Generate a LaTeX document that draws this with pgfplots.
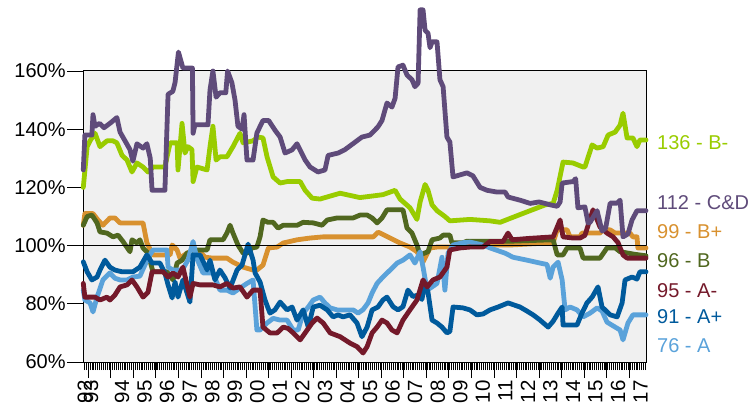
\documentclass[border=0pt]{standalone}
\usepackage{pgfplots}
\pgfplotsset{compat=1.18}
\usepackage{fontspec}
\setmainfont{Liberation Sans}
\definecolor{cCD}{HTML}{5F4B7A}
\definecolor{cBp}{HTML}{D8912F}
\definecolor{cB}{HTML}{50671F}
\definecolor{cAm}{HTML}{74192A}
\definecolor{cAp}{HTML}{005A9C}
\definecolor{cA}{HTML}{5AA2DA}
\definecolor{cBm}{HTML}{99CC00}
\begin{document}
\begin{tikzpicture}
\begin{axis}[name=main, scale only axis, width=562.7pt, height=291pt,
  xmin=1992.78, xmax=2017.74, ymin=60, ymax=160,
  clip=false,
  axis background/.style={fill=black!6},
  axis line style={black, line width=1pt},
  tick style={black, line width=0.9pt},
  tick align=outside,
  xtick={1993,...,2017}, xticklabels={},
  minor xtick={1992.8333,1992.9167,...,2017.75},
  major tick length=16pt, minor tick length=8pt,
  xtick pos=left, ytick pos=left,
  ytick={60,80,...,160},
  /pgf/number format/assume math mode=true,
  yticklabel={\pgfmathprintnumber{\tick}\%},
  yticklabel style={font=\fontsize{20}{24}\selectfont, inner sep=1.5pt},
  every axis plot/.append style={line width=4.8pt, line join=round, line cap=round},
]
% B+
\addplot[cBp] coordinates {(1992.78,107) (1992.85,111) (1993.21,111) (1993.43,108.8) (1993.65,107) (1993.96,109.5) (1994.18,109.5) (1994.41,107.8) (1995.43,107.8) (1995.60,101) (1995.87,96.8) (1996.63,96.8) (1996.72,100.2) (1996.94,98.5) (1997.07,95.7) (1997.38,97.4) (1997.51,97.8) (1997.96,97.8) (1998.18,96) (1998.53,95.7) (1999.15,95.7) (1999.42,94.3) (1999.87,92.6) (2000.31,91.6) (2000.48,91.6) (2000.75,93.3) (2000.99,99.2) (2001.38,99.5) (2001.65,100.9) (2002.27,102) (2002.84,102.6) (2003.42,103) (2005.06,103) (2005.64,103) (2005.86,104.6) (2006.03,104) (2006.39,102.6) (2006.83,100.9) (2007.27,99.5) (2007.58,97.9) (2007.85,94.4) (2008.16,99.2) (2008.47,99.5) (2009.04,99.5) (2009.35,100.2) (2011.71,100.2) (2013.62,101) (2013.80,105.4) (2014.24,105.4) (2014.37,103) (2014.81,103) (2014.90,104.3) (2015.70,104.3) (2015.84,105.4) (2016.15,105.4) (2016.37,104.3) (2017.03,104.3) (2017.16,103) (2017.34,103) (2017.38,99.2) (2017.74,99.2)};
% B
\addplot[cB] coordinates {(1992.78,107) (1992.95,110) (1993.16,110.5) (1993.39,107.8) (1993.52,104.7) (1993.83,104.3) (1994.10,103) (1994.32,103.6) (1994.54,101.4) (1994.85,97.9) (1994.94,102) (1995.16,100.9) (1995.29,102) (1995.43,99.2) (1995.65,97.4) (1995.87,91) (1996.49,91) (1996.76,88.2) (1996.94,94) (1997.16,95) (1997.38,97.4) (1997.82,98.5) (1998.27,98.5) (1998.40,102) (1998.98,102) (1999.15,104.3) (1999.29,107) (1999.42,104.3) (1999.64,100.2) (1999.87,97.4) (2000.04,97.4) (2000.26,99.2) (2000.48,99.5) (2000.62,103) (2000.75,108.8) (2000.97,108) (2001.20,108) (2001.42,106) (2001.65,107) (2002.27,107) (2002.53,108) (2002.98,107.8) (2003.37,107) (2003.60,108.8) (2004.04,109.5) (2004.75,109.5) (2005.06,110.5) (2005.37,110.5) (2005.59,109.5) (2005.81,107.8) (2006.03,109.5) (2006.25,112.3) (2006.96,112.3) (2007.14,106) (2007.36,104.3) (2007.58,100.2) (2007.72,96.8) (2008.07,97.9) (2008.25,102) (2008.60,102.6) (2008.74,103.6) (2009.04,103.6) (2009.13,101) (2009.62,101) (2009.80,101.5) (2011.71,101.5) (2013.62,102) (2013.80,96.8) (2014.06,96.8) (2014.24,99.2) (2014.81,99.2) (2014.95,95.7) (2015.70,95.7) (2016.01,99.2) (2016.37,99.2) (2016.59,97.9) (2017.25,97) (2017.74,96.5)};
% A
\addplot[cA] coordinates {(1992.78,84.7) (1992.85,81.3) (1993.08,80.3) (1993.21,77.2) (1993.39,82.3) (1993.65,88.2) (1993.96,90.6) (1994.18,88.8) (1994.41,88.2) (1994.72,88.2) (1994.98,89.2) (1995.29,89.5) (1995.65,95.7) (1995.87,98.5) (1996.49,98.5) (1996.54,92.6) (1996.76,91.6) (1997.07,91.6) (1997.20,92) (1997.42,95) (1997.65,101.4) (1997.82,95.5) (1998.09,90.6) (1998.53,90.6) (1998.84,84.7) (1999.15,84.7) (1999.42,83.7) (1999.73,85.4) (2000.04,87) (2000.31,88.2) (2000.48,71) (2000.62,71) (2000.93,73.4) (2001.20,75) (2001.51,74.4) (2001.82,74.4) (2002.09,71) (2002.31,71) (2002.53,76.8) (2002.76,78.9) (2002.98,81.3) (2003.28,82.3) (2003.50,80.3) (2003.73,78.6) (2004.04,77.9) (2004.75,77.9) (2004.97,76.8) (2005.19,78) (2005.41,80.3) (2005.59,83.7) (2005.81,87) (2006.07,89.2) (2006.39,91.6) (2006.70,94) (2006.96,95) (2007.27,96.8) (2007.49,94) (2007.72,97.9) (2007.85,92.6) (2008.03,84.7) (2008.25,85.8) (2008.47,87) (2008.69,96) (2008.82,84.7) (2008.96,97.4) (2009.18,100.2) (2009.62,101) (2009.93,101.2) (2010.51,100.2) (2010.82,99.2) (2011.49,97.4) (2011.84,96) (2012.46,95) (2013.04,94) (2013.35,93.5) (2013.49,88.8) (2013.62,92.6) (2013.84,94.3) (2014.02,88.2) (2014.15,77.9) (2014.37,78.9) (2014.68,77.9) (2014.95,75.5) (2015.26,76.8) (2015.57,78.6) (2015.79,77.5) (2016.01,73.7) (2016.37,72) (2016.59,71) (2016.72,67.6) (2016.94,73.4) (2017.16,76.2) (2017.74,76.2)};
% A+
\addplot[cAp] coordinates {(1992.78,94.4) (1992.95,91) (1993.16,88.2) (1993.39,89.2) (1993.52,91.6) (1993.74,95) (1993.96,92.6) (1994.18,91.6) (1994.50,91) (1994.98,91) (1995.29,92.6) (1995.60,96.8) (1995.83,94) (1996.18,94) (1996.40,90.6) (1996.54,86.5) (1996.72,82) (1996.85,87.5) (1996.98,82.3) (1997.20,88.2) (1997.51,80.6) (1997.65,96.8) (1997.96,96.8) (1998.27,91.6) (1998.40,95) (1998.62,88.2) (1998.84,91.6) (1999.06,89) (1999.29,85.4) (1999.60,91.6) (1999.82,93.3) (2000.09,100.5) (2000.31,95) (2000.40,90.6) (2000.62,87.5) (2000.84,81.3) (2001.06,76.8) (2001.28,77.9) (2001.51,80.6) (2001.82,77.9) (2002.04,78.9) (2002.26,74.4) (2002.53,77.9) (2002.76,72) (2002.98,78.9) (2003.28,79.5) (2003.60,77.9) (2003.86,75.5) (2004.08,76.2) (2004.30,75.5) (2004.61,76.2) (2004.92,73.4) (2005.14,68.7) (2005.37,72) (2005.59,77.9) (2005.85,78.9) (2006.07,81.3) (2006.25,82.3) (2006.52,79) (2006.74,77.9) (2006.96,79) (2007.18,84.7) (2007.40,82.5) (2007.63,83) (2007.80,81.5) (2007.94,87) (2008.07,84) (2008.25,74.4) (2008.47,73.4) (2008.69,72) (2008.91,70) (2009.04,70.5) (2009.18,78.9) (2009.62,78.6) (2009.93,77.9) (2010.24,76.2) (2010.51,76.5) (2010.82,77.9) (2011.18,78.9) (2011.62,80.3) (2012.15,78.9) (2012.46,77.5) (2012.73,76.2) (2013.04,74.4) (2013.40,72) (2013.62,74) (2013.84,76.8) (2014.02,78.9) (2014.06,72.7) (2014.68,72.7) (2014.90,76.8) (2015.12,80.3) (2015.35,82.3) (2015.61,85.8) (2015.79,78.9) (2016.15,76.2) (2016.46,75.5) (2016.68,80.3) (2016.81,88.2) (2017.12,89.2) (2017.34,88.5) (2017.47,91) (2017.74,91)};
% A-
\addplot[cAm] coordinates {(1992.78,87) (1992.85,82.3) (1993.30,82.3) (1993.52,81.3) (1993.83,82.3) (1993.96,81.3) (1994.18,83) (1994.41,85.8) (1994.72,86.5) (1994.94,88.2) (1995.16,85.8) (1995.43,82.3) (1995.65,84) (1995.83,91) (1996.32,91) (1996.54,89.2) (1996.76,90.6) (1996.98,89.2) (1997.20,92.6) (1997.51,82.3) (1997.65,87) (1997.96,86.5) (1998.53,86.5) (1998.84,85.8) (1999.15,87) (1999.42,85.4) (1999.73,85.8) (2000.04,82.3) (2000.31,84.7) (2000.62,84.7) (2000.75,72) (2001.06,70) (2001.38,70) (2001.65,72) (2001.87,71.5) (2002.09,70) (2002.40,67.6) (2002.62,70) (2002.93,73.4) (2003.15,75.1) (2003.42,73.4) (2003.73,70) (2004.17,68.7) (2004.61,66.5) (2004.92,65.3) (2005.19,63.1) (2005.37,65.3) (2005.59,70) (2005.81,72) (2006.03,74.4) (2006.25,73.4) (2006.47,71) (2006.70,70) (2006.96,74.4) (2007.27,77.9) (2007.58,81.3) (2007.85,88.2) (2008.03,85.8) (2008.29,88.2) (2008.60,89.2) (2008.91,92.6) (2009.04,98.5) (2009.49,99.2) (2009.93,99.5) (2010.51,99.5) (2010.82,101.4) (2011.40,101.4) (2011.62,104.3) (2011.80,102) (2012.60,102.5) (2013.62,103) (2013.93,108.8) (2014.06,103) (2014.50,102.6) (2014.81,102.6) (2015.03,103.5) (2015.39,112.3) (2015.70,106.4) (2016.01,104.3) (2016.28,103) (2016.50,101) (2016.72,96.8) (2016.90,95.7) (2017.74,95.7)};
% B-
\addplot[cBm] coordinates {(1992.78,120) (1992.95,134) (1993.08,136) (1993.30,138.6) (1993.52,134) (1993.83,136) (1994.10,136) (1994.27,135.3) (1994.50,131) (1994.72,129.4) (1994.94,125.3) (1995.16,128.4) (1995.43,127) (1995.65,125.3) (1995.87,127) (1996.40,127) (1996.63,135.3) (1996.94,135.3) (1996.98,126) (1997.16,142) (1997.29,131.8) (1997.42,134) (1997.60,133) (1997.65,122) (1997.82,127) (1998.27,126) (1998.40,134) (1998.53,141) (1998.67,129.4) (1998.84,130.5) (1999.15,130.5) (1999.42,134) (1999.73,138.6) (1999.87,135.3) (2000.31,136) (2000.53,137.3) (2000.75,137) (2000.93,130.5) (2001.20,123.6) (2001.51,121.5) (2001.82,122) (2002.40,122) (2002.62,119) (2002.93,116.3) (2003.28,116) (2004.17,118) (2005.05,116.5) (2006.07,117.5) (2006.61,119) (2006.83,116) (2007.27,113) (2007.58,109) (2007.72,115) (2007.94,121) (2008.07,119) (2008.25,114) (2008.47,112) (2008.82,110) (2009.04,108.5) (2009.93,109) (2010.82,108.5) (2011.27,108) (2011.93,110) (2012.60,112) (2013.27,114) (2013.62,114.5) (2013.80,119) (2014.06,128.7) (2014.50,128.4) (2014.95,127) (2015.03,127) (2015.35,134.6) (2015.57,133.5) (2015.84,134) (2016.06,138) (2016.37,139) (2016.59,141.4) (2016.72,145.5) (2016.90,137) (2017.16,137) (2017.34,134) (2017.47,136.3) (2017.74,136.3)};
% C&D
\addplot[cCD] coordinates {(1992.78,126) (1992.85,138) (1993.16,138) (1993.21,145) (1993.30,141) (1993.50,142) (1993.70,140.5) (1993.96,142) (1994.27,144) (1994.41,139) (1994.63,136) (1994.85,133) (1994.98,129) (1995.16,135) (1995.43,133.5) (1995.60,135) (1995.75,130) (1995.83,119) (1996.40,119) (1996.54,152) (1996.75,153) (1996.85,156) (1997.00,166.5) (1997.20,161) (1997.62,161) (1997.65,138.6) (1997.73,141.5) (1998.31,141.5) (1998.40,153.5) (1998.53,160) (1998.67,151) (1998.84,152.5) (1999.10,152.5) (1999.18,160) (1999.37,156) (1999.51,150) (1999.64,141) (1999.82,140) (1999.91,145) (2000.04,129.4) (2000.31,129.4) (2000.48,138.7) (2000.75,143) (2001.00,143) (2001.28,139.7) (2001.51,137.3) (2001.73,131.8) (2002.04,132.9) (2002.26,135) (2002.62,129.4) (2002.84,127) (2003.19,125.3) (2003.50,126) (2003.64,131) (2004.08,131.8) (2004.39,133) (2004.74,135) (2005.14,137.3) (2005.50,138) (2005.85,140.8) (2006.03,143) (2006.25,149) (2006.47,147.6) (2006.61,150.6) (2006.74,161.4) (2006.96,162) (2007.14,158.6) (2007.36,157) (2007.49,154.6) (2007.63,155.8) (2007.72,181) (2007.85,181) (2007.94,174) (2008.07,173) (2008.16,168) (2008.25,170) (2008.47,170) (2008.60,157) (2008.74,154.6) (2008.91,137.3) (2009.04,135.6) (2009.18,123.6) (2009.49,124.3) (2009.80,125) (2010.06,124) (2010.38,120) (2010.69,119) (2011.13,118.4) (2011.49,118.4) (2011.62,116.7) (2012.20,115.5) (2012.60,114.5) (2013.00,115) (2013.50,114) (2013.80,113.5) (2013.93,115) (2014.02,121.5) (2014.50,122) (2014.62,123) (2014.72,113) (2015.03,113.3) (2015.17,107.8) (2015.26,108) (2015.57,112) (2015.79,105) (2015.95,106) (2016.15,114.6) (2016.46,114.6) (2016.59,115.6) (2016.72,103) (2016.94,104) (2017.12,108.8) (2017.34,112) (2017.74,112)};
% 100% line
\addplot[black, line width=1.2pt, line cap=butt] coordinates {(1992.78,100) (2017.74,100)};
% year labels
\tikzset{yl/.style={rotate=90, anchor=east, inner sep=0pt, font=\fontsize{20.5}{24}\selectfont}}
\node[yl] at ([yshift=-18pt]axis cs:1992.85,60) {92};
\node[yl] at ([yshift=-18pt]axis cs:1993.12,60) {93};
\node[yl] at ([yshift=-18pt]axis cs:1994.5,60) {94};
\node[yl] at ([yshift=-18pt]axis cs:1995.5,60) {95};
\node[yl] at ([yshift=-18pt]axis cs:1996.5,60) {96};
\node[yl] at ([yshift=-18pt]axis cs:1997.5,60) {97};
\node[yl] at ([yshift=-18pt]axis cs:1998.5,60) {98};
\node[yl] at ([yshift=-18pt]axis cs:1999.5,60) {99};
\node[yl] at ([yshift=-18pt]axis cs:2000.5,60) {00};
\node[yl] at ([yshift=-18pt]axis cs:2001.5,60) {01};
\node[yl] at ([yshift=-18pt]axis cs:2002.5,60) {02};
\node[yl] at ([yshift=-18pt]axis cs:2003.5,60) {03};
\node[yl] at ([yshift=-18pt]axis cs:2004.5,60) {04};
\node[yl] at ([yshift=-18pt]axis cs:2005.5,60) {05};
\node[yl] at ([yshift=-18pt]axis cs:2006.5,60) {06};
\node[yl] at ([yshift=-18pt]axis cs:2007.5,60) {07};
\node[yl] at ([yshift=-18pt]axis cs:2008.5,60) {08};
\node[yl] at ([yshift=-18pt]axis cs:2009.5,60) {09};
\node[yl] at ([yshift=-18pt]axis cs:2010.5,60) {10};
\node[yl] at ([yshift=-18pt]axis cs:2011.5,60) {11};
\node[yl] at ([yshift=-18pt]axis cs:2012.5,60) {12};
\node[yl] at ([yshift=-18pt]axis cs:2013.5,60) {13};
\node[yl] at ([yshift=-18pt]axis cs:2014.5,60) {14};
\node[yl] at ([yshift=-18pt]axis cs:2015.5,60) {15};
\node[yl] at ([yshift=-18pt]axis cs:2016.5,60) {16};
\node[yl] at ([yshift=-18pt]axis cs:2017.5,60) {17};
% end labels
\tikzset{el/.style={anchor=west, inner sep=0pt, font=\fontsize{20}{24}\selectfont}}
\node[el, text=cBm] at ([xshift=11pt]axis cs:2017.74,135.3) {136 - B-};
\node[el, text=cCD] at ([xshift=11pt]axis cs:2017.74,114.6) {112 - C\&D};
\node[el, text=cBp] at ([xshift=11pt]axis cs:2017.74,104.7) {99 - B+};
\node[el, text=cB] at ([xshift=11pt]axis cs:2017.74,94.7) {96 - B};
\node[el, text=cAm] at ([xshift=11pt]axis cs:2017.74,84.7) {95 - A-};
\node[el, text=cAp] at ([xshift=11pt]axis cs:2017.74,75.5) {91 - A+};
\node[el, text=cA] at ([xshift=11pt]axis cs:2017.74,65.5) {76 - A};
\end{axis}
\pgfresetboundingbox
\path[use as bounding box] ([xshift=-83.3pt,yshift=-42pt]main.south west) rectangle ([xshift=108pt,yshift=71pt]main.north east);
\end{tikzpicture}
\end{document}
